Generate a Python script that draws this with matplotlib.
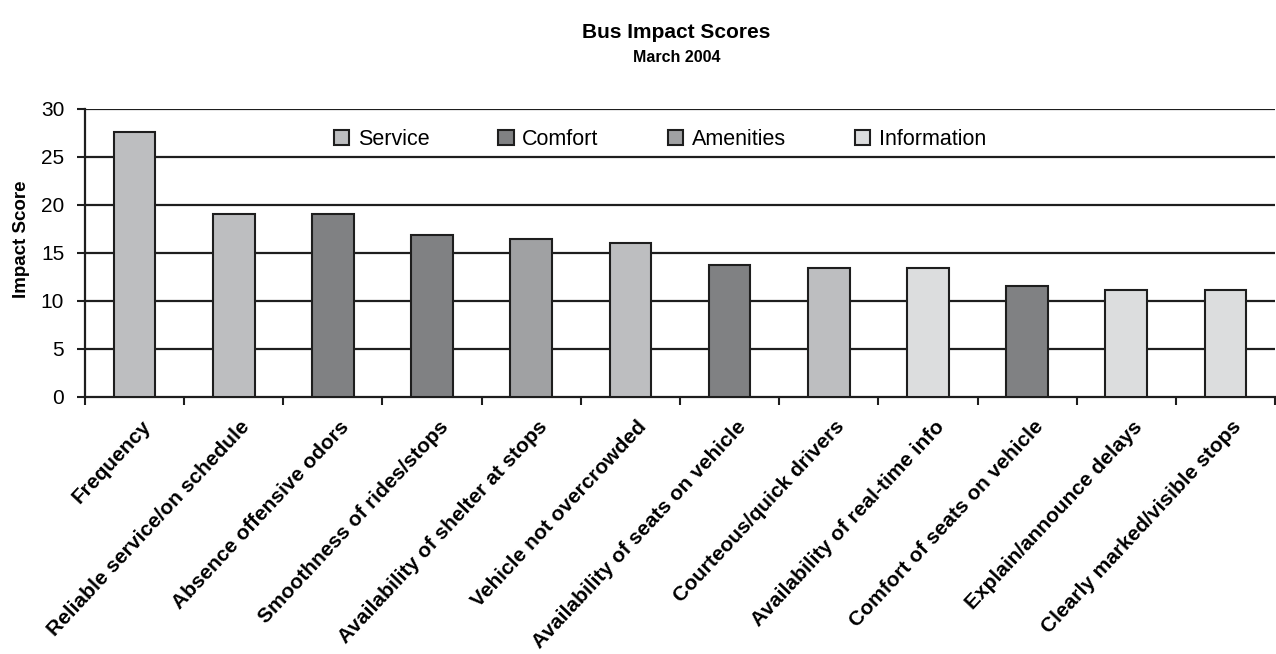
import matplotlib
matplotlib.use("Agg")
import matplotlib.pyplot as plt
from matplotlib.patches import Patch
import matplotlib.transforms as mtransforms

plt.rcParams['font.family'] = ['Liberation Sans', 'DejaVu Sans']

categories = [
    "Frequency",
    "Reliable service/on schedule",
    "Absence offensive odors",
    "Smoothness of rides/stops",
    "Availability of shelter at stops",
    "Vehicle not overcrowded",
    "Availability of seats on vehicle",
    "Courteous/quick drivers",
    "Availability of real-time info",
    "Comfort of seats on vehicle",
    "Explain/announce delays",
    "Clearly marked/visible stops",
]
scores = [27.6, 19.1, 19.1, 16.9, 16.5, 16.0, 13.8, 13.4, 13.4, 11.6, 11.1, 11.1]
groups = ["Service", "Service", "Comfort", "Comfort", "Amenities", "Service",
          "Comfort", "Service", "Information", "Comfort", "Information", "Information"]
group_names = ["Service", "Comfort", "Amenities", "Information"]
group_colors = {
    "Service": "#bdbec0",
    "Comfort": "#808183",
    "Amenities": "#a0a1a3",
    "Information": "#dcddde",
}
yticks = [0, 5, 10, 15, 20, 25, 30]

fig = plt.figure(figsize=(12.76, 6.54), dpi=100)
ax = fig.add_axes([85 / 1276, 1 - 397 / 654, 1190 / 1276, 288 / 654])

x = list(range(len(categories)))
for v in yticks[1:]:
    ax.axhline(v, color="#1e1e1e", lw=1.6, zorder=1)
ax.bar(x, scores, width=0.42,
       color=[group_colors[g] for g in groups],
       edgecolor="#1e1e1e", linewidth=1.5, zorder=3)

ax.set_xlim(-0.5, len(categories) - 0.5)
ax.set_ylim(0, 30)
ax.set_yticks(yticks)
ax.set_yticklabels([str(v) for v in yticks], fontsize=15)
ax.tick_params(axis="y", direction="out", length=6, width=1.5, color="#1e1e1e", pad=9)

# category separators as ticks on the x axis
ax.set_xticks([i - 0.5 for i in range(len(categories) + 1)])
ax.set_xticklabels([])
ax.tick_params(axis="x", direction="out", length=6, width=1.5, color="#1e1e1e")

offset = mtransforms.ScaledTranslation(6 / 100, -20 / 100, fig.dpi_scale_trans)
for i, name in enumerate(categories):
    ax.text(i, 0, name, transform=ax.get_xaxis_transform() + offset,
            rotation=47, rotation_mode="anchor", ha="right", va="top",
            fontsize=15, fontweight="bold")

for side in ["top", "right"]:
    ax.spines[side].set_visible(False)
for side in ["left", "bottom"]:
    ax.spines[side].set_linewidth(1.6)
    ax.spines[side].set_color("#1e1e1e")

ax.set_ylabel("Impact Score", fontsize=13.5, fontweight="bold")
ax.yaxis.set_label_coords(-0.046, 0.549)

handles = [Patch(facecolor=group_colors[g], edgecolor="#1e1e1e", linewidth=1.5, label=g)
           for g in group_names]
leg = ax.legend(handles=handles, ncol=4, loc="center", bbox_to_anchor=(0.483, 0.895),
                frameon=False, fontsize=15.5, handlelength=0.72, handleheight=0.72,
                handletextpad=0.4, columnspacing=3.2)

fig.text(0.53, 1 - 32 / 654, "Bus Impact Scores", ha="center", va="center",
         fontsize=15, fontweight="bold")
fig.text(0.53, 1 - 58 / 654, "March 2004", ha="center", va="center",
         fontsize=11.5, fontweight="bold")

fig.savefig("out.png", dpi=100)
